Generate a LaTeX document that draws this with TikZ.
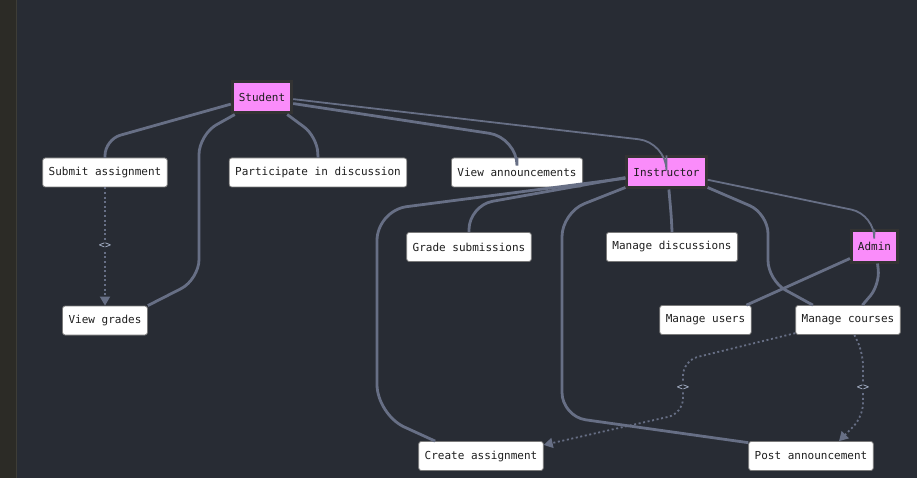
\documentclass[tikz,border=0pt]{standalone}
\usepackage{fontspec}
\setmonofont{DejaVu Sans Mono}
\usetikzlibrary{arrows.meta}
\definecolor{bgc}{HTML}{282C34}
\definecolor{stripc}{HTML}{2C2B26}
\definecolor{stripl}{HTML}{3E3D37}
\definecolor{edgec}{HTML}{676F85}
\definecolor{pinkc}{HTML}{FA8CFA}
\definecolor{pinkb}{HTML}{333333}
\definecolor{boxb}{HTML}{7A7A7A}
\definecolor{labc}{HTML}{B4C0D8}
\definecolor{txtc}{HTML}{1E1E1E}
\begin{document}
\begin{tikzpicture}[x=1pt,y=-1pt,
  actor/.style={fill=pinkc,draw=pinkb,line width=3pt,inner xsep=6.5pt,inner ysep=0pt,minimum height=31pt,
    font=\ttfamily\fontsize{11}{13}\selectfont,text=txtc},
  usecase/.style={fill=white,draw=boxb,line width=0.8pt,rounded corners=2.5pt,inner xsep=6pt,inner ysep=0pt,minimum height=29pt,
    font=\ttfamily\fontsize{11}{13}\selectfont,text=txtc},
  link/.style={draw=edgec,line width=2.8pt},
  thinlink/.style={draw=edgec,line width=1.8pt},
  rel/.style={draw=edgec,line width=1.8pt,dash pattern=on 2pt off 2.6pt,-{Triangle[length=9pt,width=10pt]}},
  rellab/.style={fill=bgc,inner sep=1.5pt,text=labc,font=\ttfamily\fontsize{10}{11}\selectfont}
]
\fill[bgc] (0,0) rectangle (917,477);
\fill[stripc] (0,0) rectangle (16,477);
\draw[stripl,line width=1pt] (16,0) -- (16,477);
\useasboundingbox (0,0) rectangle (917,477);

% nodes
\node[actor] (stu) at (262,97) {Student};
\node[actor] (ins) at (666.5,172) {Instructor};
\node[actor] (adm) at (874.5,246) {Admin};
\node[usecase] (sub) at (105,172) {Submit assignment};
\node[usecase] (par) at (318,172) {Participate in discussion};
\node[usecase] (van) at (517,172) {View announcements};
\node[usecase] (gra) at (469,246.5) {Grade submissions};
\node[usecase] (mdi) at (672,246.5) {Manage discussions};
\node[usecase] (vgr) at (105,320) {View grades};
\node[usecase] (mus) at (705.5,319.5) {Manage users};
\node[usecase] (mco) at (848,319.5) {Manage courses};
\node[usecase] (cre) at (481,455.5) {Create assignment};
\node[usecase] (pos) at (811,455.5) {Post announcement};

% student edges
\draw[link,rounded corners=16pt] (stu.192) -- (105,139) -- (sub.north);
\draw[link,rounded corners=20pt] (stu.212) -- (199,134) -- (199,279) -- (vgr.north east);
\draw[link,rounded corners=16pt] (stu.-34) -- (317,136) -- (par.north);
\draw[link,rounded corners=28pt] (stu.-11) -- (517,137) -- (van.north);
\draw[thinlink,rounded corners=28pt] (stu.-3) -- (666.5,142) -- (ins.north);

% instructor edges
\draw[link,rounded corners=24pt] (ins.187) -- (469,205) -- (gra.north);
\draw[link,rounded corners=30pt] (ins.188) -- (377,210) -- (377,414) -- (cre.162);
\draw[link,rounded corners=24pt] (ins.200) -- (562,212) -- (562,416) -- (pos.168);
\draw[link] (ins.-82) to[out=-85,in=92] (mdi.north);
\draw[link,rounded corners=20pt] (ins.-20) -- (768,213) -- (768,280) -- (mco.157);
\draw[thinlink,rounded corners=24pt] (ins.-10) -- (875,214) -- (adm.north);

% admin edges
\draw[link] (adm.206) -- (mus.20);
\draw[link,rounded corners=15pt] (adm.-80) -- (880,284) -- (mco.46);

% dotted relations
\draw[rel] (sub.south) -- (vgr.north);
\node[rellab] (l1) at (105,245) {<>};
\draw[rel,rounded corners=15pt] (mco.194) -- (683,360) -- (683,413) -- (cre.10);
\node[rellab] (l2) at (683,387) {<>};
\draw[rel,rounded corners=13pt] (mco.-67) -- (863,352) -- (863,416) -- (pos.28);
\node[rellab] (l3) at (863,387) {<>};
\end{tikzpicture}
\end{document}
